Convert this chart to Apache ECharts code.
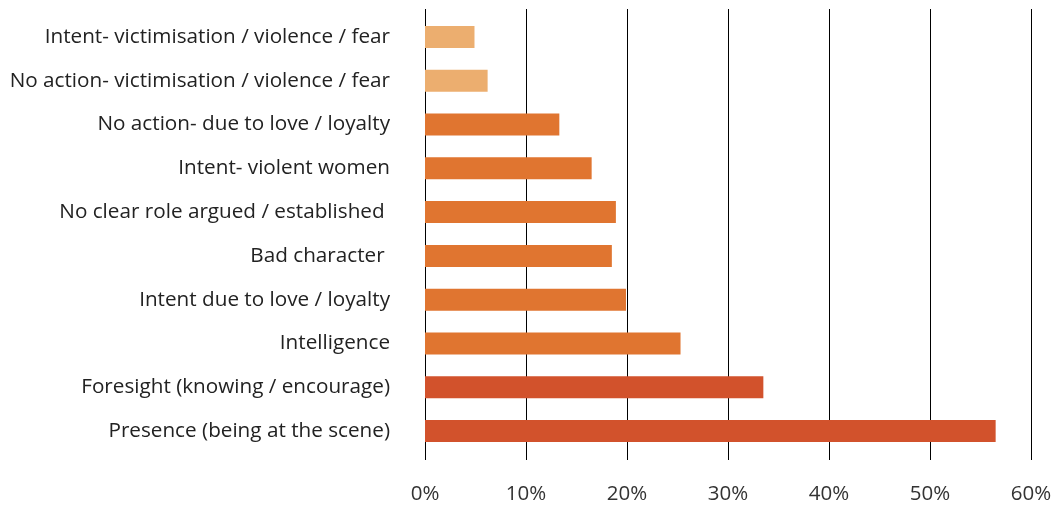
<!DOCTYPE html>
<html>
<head>
<meta charset="utf-8">
<script src="https://cdn.jsdelivr.net/npm/echarts@6/dist/echarts.min.js"></script>
<style>
  html, body { margin: 0; padding: 0; background: #fff; }
  #chart { width: 1055px; height: 506px; }
</style>
</head>
<body>
<div id="chart"></div>
<script>
// categories, top to bottom
const categories = [
  'Intent- victimisation / violence / fear',
  'No action- victimisation / violence / fear',
  'No action- due to love / loyalty',
  'Intent- violent women',
  'No clear role argued / established ',
  'Bad character ',
  'Intent due to love / loyalty',
  'Intelligence',
  'Foresight (knowing / encourage)',
  'Presence (being at the scene)'
]
const values = [4.9, 6.2, 13.3, 16.5, 18.9, 18.5, 19.9, 25.3, 33.5, 56.5]
// colour group per bar: 0 light, 1 mid, 2 dark
const groups = [0, 0, 1, 1, 1, 1, 1, 1, 2, 2]
const groupColors = ['#ECAE6F', '#E07530', '#D2522C']
const xTicks = [0, 10, 20, 30, 40, 50, 60]

const chart = echarts.init(document.getElementById('chart'))

const font = '"Open Sans", "Noto Sans", sans-serif'

chart.setOption({
  animation: false,
  grid: { left: 425, right: 24, top: 15, bottom: 53 },
  xAxis: [
    {
      type: 'value',
      min: xTicks[0],
      max: xTicks[xTicks.length - 1],
      interval: 10,
      position: 'bottom',
      axisLine: { show: false },
      axisTick: { show: true, length: 7, lineStyle: { color: '#000', width: 1 } },
      splitLine: { show: true, lineStyle: { color: '#000', width: 1 } },
      axisLabel: {
        margin: 31,
        formatter: v => v + '%',
        fontFamily: font,
        fontSize: 20.5,
        color: '#333'
      }
    },
    {
      type: 'value',
      min: xTicks[0],
      max: xTicks[xTicks.length - 1],
      interval: 10,
      position: 'top',
      axisLine: { show: false },
      axisTick: { show: true, length: 6, lineStyle: { color: '#000', width: 1 } },
      splitLine: { show: false },
      axisLabel: { show: false }
    }
  ],
  yAxis: {
    type: 'category',
    data: categories,
    inverse: true,
    axisLine: { show: false },
    axisTick: { show: false },
    axisLabel: {
      margin: 35,
      fontFamily: font,
      fontSize: 20.7,
      color: '#222'
    }
  },
  series: [{
    type: 'bar',
    xAxisIndex: 0,
    barWidth: 22,
    data: values.map((v, i) => ({
      value: v,
      itemStyle: { color: groupColors[groups[i]] }
    }))
  }]
})
</script>
</body>
</html>
